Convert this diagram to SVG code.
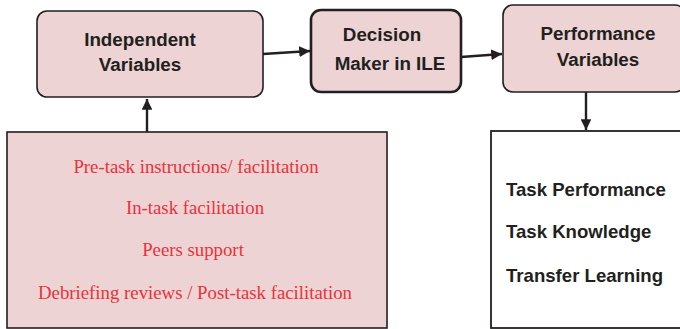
<svg xmlns="http://www.w3.org/2000/svg" width="680" height="329" viewBox="0 0 680 329">
<style>
.box{fill:#edd3d3;stroke:#231f20;stroke-width:1.6}
.thick{stroke-width:2.6}
.h{font-family:"Liberation Sans",Arial,sans-serif;font-weight:bold;font-size:18.8px;fill:#231f20;text-anchor:middle}
.r{font-family:"Liberation Serif","Times New Roman",serif;font-size:18.8px;fill:#e8323c;text-anchor:middle}
.k{font-family:"Liberation Sans",Arial,sans-serif;font-weight:bold;font-size:18.6px;fill:#231f20}
.c{stroke:#231f20;stroke-width:2.4;fill:none}
</style>
<defs>
<marker id="ah" viewBox="0 0 10 10" refX="10" refY="5" markerWidth="4.5" markerHeight="4.5" orient="auto" markerUnits="strokeWidth">
<path d="M0,0 L10,5 L0,10 z" fill="#231f20"/>
</marker>
</defs>
<rect width="680" height="329" fill="#fff"/>
<g id="independent">
<rect class="box" x="37" y="11" width="226" height="86" rx="10"/>
<text class="h" x="140" y="46">Independent</text>
<text class="h" x="140" y="71">Variables</text>
</g>
<g id="decision">
<rect class="box thick" x="311" y="10" width="150" height="82" rx="10"/>
<text class="h" x="382" y="41">Decision</text>
<text class="h" x="390" y="70">Maker in ILE</text>
</g>
<g id="performance">
<rect class="box" x="503" y="5" width="182" height="87" rx="10"/>
<text class="h" x="598" y="40">Performance</text>
<text class="h" x="598" y="66">Variables</text>
</g>
<g id="facilitation">
<rect class="box" x="7" y="132" width="380" height="196"/>
<text class="r" x="196" y="173">Pre-task instructions/ facilitation</text>
<text class="r" x="195" y="214">In-task facilitation</text>
<text class="r" x="193" y="256">Peers support</text>
<text class="r" x="195" y="299">Debriefing reviews / Post-task facilitation</text>
</g>
<g id="outcomes">
<rect x="491" y="131" width="195" height="197" fill="#fff" stroke="#231f20" stroke-width="1.8"/>
<text class="k" x="506" y="196">Task Performance</text>
<text class="k" x="506" y="238">Task Knowledge</text>
<text class="k" x="506" y="282">Transfer Learning</text>
</g>
<g id="connectors">
<line class="c" x1="263" y1="54" x2="310" y2="51" marker-end="url(#ah)"/>
<line class="c" x1="461" y1="57" x2="502" y2="54" marker-end="url(#ah)"/>
<line class="c" x1="586" y1="92" x2="586" y2="130" marker-end="url(#ah)"/>
<line class="c" x1="147" y1="132" x2="147" y2="99" marker-end="url(#ah)"/>
</g>
</svg>
